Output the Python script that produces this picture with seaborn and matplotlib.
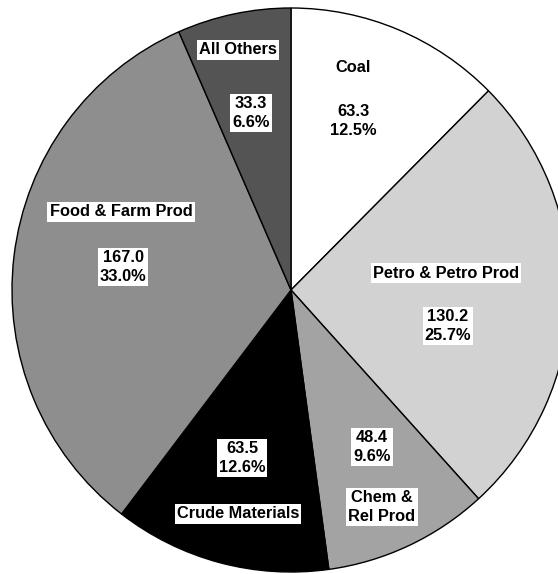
import matplotlib
matplotlib.use("Agg")
import matplotlib.pyplot as plt
import seaborn as sns

sns.set_theme(style="white")
plt.rcParams['font.family'] = ['Liberation Sans', 'DejaVu Sans']

# Data (clockwise from 12 o'clock)
categories = ["Coal", "Petro & Petro Prod", "Chem &\nRel Prod", "Crude Materials",
              "Food & Farm Prod", "All Others"]
values = [63.3, 130.2, 48.4, 63.5, 167.0, 33.3]
colors = ["#ffffff", "#d2d2d2", "#a3a3a3", "#000000", "#8e8e8e", "#545454"]

total = sum(values)

# label placement in pixels of the reference (name pos, value pos)
name_px = [(353, 67), (446, 273), (382, 507), (238, 514), (121, 212), (238, 50)]
val_px = [(353, 121), (448, 326), (372, 447), (242, 458), (123, 267), (251, 113)]

W, H = 558, 574
cx, cy, rx, ry = 291, 290, 279, 282

fig = plt.figure(figsize=(W / 100, H / 100), dpi=100)
ax = fig.add_axes([(cx - rx) / W, (H - (cy + ry)) / H, 2 * rx / W, 2 * ry / H])

ax.pie(values, colors=colors, startangle=90, counterclock=False, radius=1.0,
       wedgeprops=dict(edgecolor="black", linewidth=1.0))
ax.set_aspect("auto")
ax.set_xlim(-1, 1)
ax.set_ylim(-1, 1)
ax.axis("off")


def to_data(p):
    return ((p[0] - cx) / rx, (cy - p[1]) / ry)


box = dict(facecolor="white", edgecolor="none", pad=1.5)
for name, v, npos, vpos in zip(categories, values, name_px, val_px):
    x, y = to_data(npos)
    ax.text(x, y, name, ha="center", va="center", fontsize=11.8, fontweight="bold",
            linespacing=1.3, bbox=box, color="black")
    x, y = to_data(vpos)
    ax.text(x, y, f"{v:.1f}\n{100 * v / total:.1f}%", ha="center", va="center",
            fontsize=11.8, fontweight="bold", linespacing=1.3, bbox=box, color="black")

fig.savefig("out.png", dpi=100)
